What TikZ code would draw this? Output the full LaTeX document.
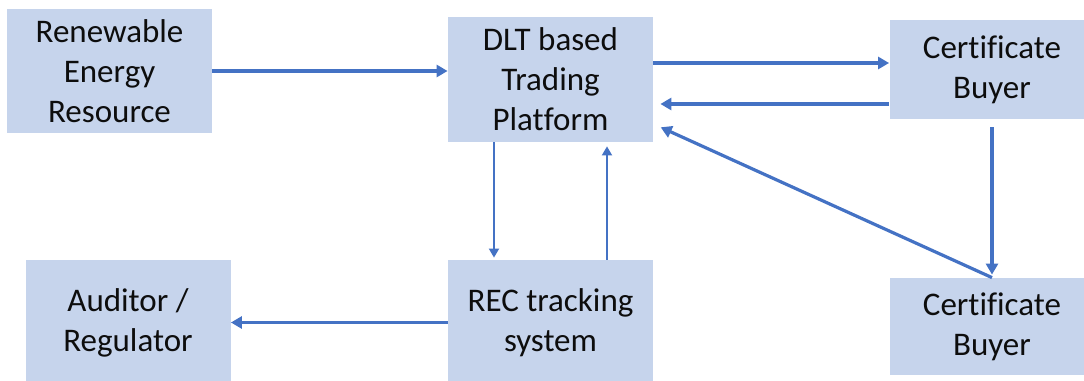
\documentclass[tikz,border=0pt]{standalone}
\usepackage{fontspec}
\setmainfont{Carlito}[Ligatures=CommonOff]
\usetikzlibrary{arrows.meta}
\definecolor{boxFill}{RGB}{198,212,236}
\definecolor{lineBlue}{RGB}{68,114,196}

\begin{document}
\begin{tikzpicture}[x=0.5pt, y=0.5pt,
    block/.style={rectangle, fill=boxFill, draw=none, align=center, inner sep=0pt, minimum width=102.5pt, font=\fontsize{16.5}{20}\selectfont, text=black!95},
    thickArrow/.style={lineBlue, line width=1.6pt, -{Triangle[length=5.5pt, width=6pt]}},
    thinArrow/.style={lineBlue, line width=0.9pt, -{Triangle[length=4.5pt, width=5pt]}}]
\useasboundingbox (0,0) rectangle (1084,381);
\clip (0,0) rectangle (1084,381);

\node[block, minimum height=62pt] (renewable) at (109.5, 310) {Renewable\\Energy\\Resource};
\node[block, minimum height=62.5pt] (dltPlatform) at (550.5, 301.5) {DLT based\\Trading\\Platform};
\node[block, minimum height=49.5pt] (buyerTop) at (992, 311.5) {Certificate\\Buyer};
\node[block, minimum height=48.5pt] (buyerBottom) at (992, 54.5) {Certificate\\Buyer};
\node[block, minimum height=62.5pt] (auditor) at (128, 58.5) {Auditor /\\Regulator};
\node[block, minimum height=62.5pt] (recTracking) at (550.5, 58.5) {REC tracking\\system};

\draw[thickArrow] (renewable.east) -- (renewable.east -| dltPlatform.west);
\draw[thickArrow] ([yshift=8.25pt]dltPlatform.east) -- ([yshift=3.25pt]buyerTop.west);
\draw[thickArrow, shorten >=3.5pt] ([yshift=-17.25pt]buyerTop.west) -- ([yshift=-12.25pt]dltPlatform.east);
\draw[thickArrow, shorten >=4pt] (buyerBottom.north) -- ([yshift=-22.25pt]dltPlatform.east);
\draw[thickArrow, shorten <=4pt, shorten >=1.5pt] (buyerTop.south) -- (buyerBottom.north);

\draw[thinArrow, shorten >=1pt] ([xshift=-28.25pt]dltPlatform.south) -- ([xshift=-28.25pt]recTracking.north);
\draw[thinArrow, shorten >=2pt] ([xshift=28.25pt]recTracking.north) -- ([xshift=28.25pt]dltPlatform.south);
\draw[thickArrow] (recTracking.west) -- (auditor.east);

\end{tikzpicture}
\end{document}
